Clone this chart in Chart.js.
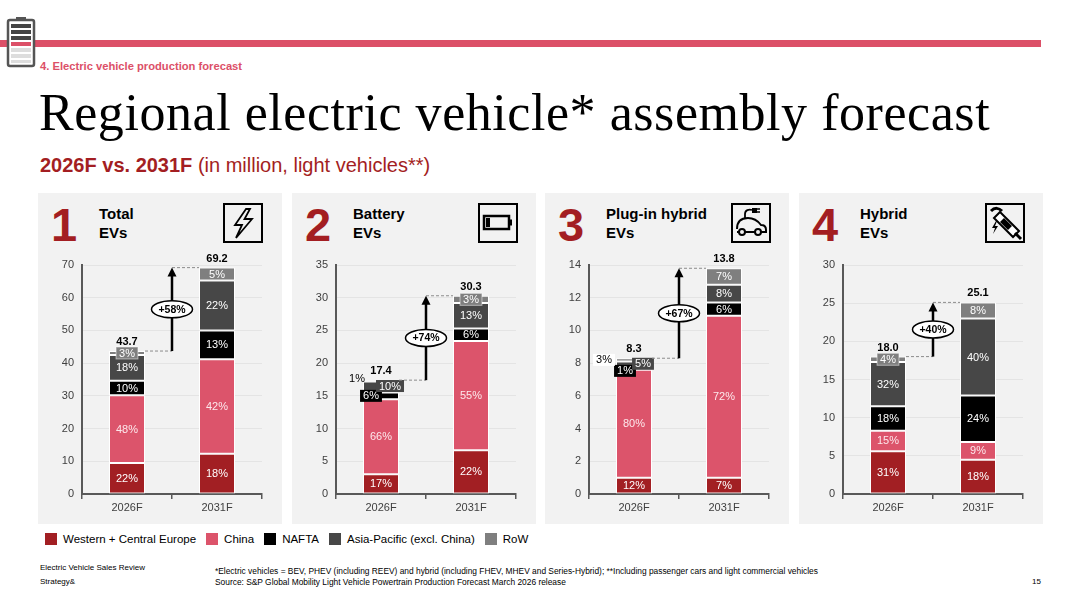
<!DOCTYPE html>
<html>
<head>
<meta charset="utf-8">
<script src="https://cdn.jsdelivr.net/npm/chart.js"></script>
<style>
  html, body { margin: 0; padding: 0; }
  body { width: 1080px; height: 607px; position: relative; background: #fff; overflow: hidden;
         font-family: "Liberation Sans", Arial, sans-serif; color: #000; }
  .abs { position: absolute; }
  .topbar { left: 0; top: 40px; width: 1041px; height: 7px; background: #dc5068; }
  .section { left: 40px; top: 60px; font-size: 11.2px; font-weight: bold; color: #dc5068; }
  .title { left: 39px; top: 83px; font-family: "Liberation Serif", "Times New Roman", serif; font-size: 52px; letter-spacing: 0.55px; white-space: nowrap; }
  .subtitle { left: 40px; top: 154px; font-size: 20px; color: #a31e22; white-space: nowrap; }
  .panel { top: 193px; width: 244px; height: 331px; background: #f2f2f2; }
  .ptitle { font-size: 15px; font-weight: bold; line-height: 19px; }
  .icon { width: 40px; height: 40px; }
  .legend { left: 45px; top: 533px; display: flex; font-size: 11.5px; color: #000; white-space: nowrap; }
  .legend span.sw { display: inline-block; width: 12px; height: 12px; margin-right: 6px; vertical-align: -2px; }
  .legend .item { margin-right: 10px; }
  .foot { font-size: 8px; color: #000; white-space: nowrap; }
  .note { font-size: 8.4px; }
  canvas { position: absolute; }
</style>
</head>
<body>
<script>
// categories and series (million light vehicles), stacked bottom to top
const regions = ['Western + Central Europe', 'China', 'NAFTA', 'Asia-Pacific (excl. China)', 'RoW'];
const regionColors = ['#a21f23', '#dc546b', '#000000', '#474747', '#7f7f7f'];
const years = ['2026F', '2031F'];

const totalEv2026 = [9.5, 20.7, 4.4, 7.9, 1.2];
const totalEv2031 = [12.3, 28.9, 8.8, 15.3, 3.9];
const bev2026 = [3.0, 11.5, 1.0, 1.7, 0.2];
const bev2031 = [6.7, 16.7, 1.9, 3.9, 1.1];
const phev2026 = [1.0, 6.6, 0.1, 0.4, 0.2];
const phev2031 = [1.0, 9.9, 0.8, 1.1, 1.0];
const hev2026 = [5.6, 2.7, 3.2, 5.8, 0.7];
const hev2031 = [4.5, 2.3, 6.1, 10.1, 2.1];

// share labels as printed
const totalEvShare2026 = ['22%', '48%', '10%', '18%', '3%'];
const totalEvShare2031 = ['18%', '42%', '13%', '22%', '5%'];
const bevShare2026 = ['17%', '66%', '6%', '10%', '1%'];
const bevShare2031 = ['22%', '55%', '6%', '13%', '3%'];
const phevShare2026 = ['12%', '80%', '1%', '5%', '3%'];
const phevShare2031 = ['7%', '72%', '6%', '8%', '7%'];
const hevShare2026 = ['31%', '15%', '18%', '32%', '4%'];
const hevShare2031 = ['18%', '9%', '24%', '40%', '8%'];

const panelTotals = [[43.7, 69.2], [17.4, 30.3], [8.3, 13.8], [18.0, 25.1]];
const totalLabels = [['43.7', '69.2'], ['17.4', '30.3'], ['8.3', '13.8'], ['18.0', '25.1']];
const growthLabels = ['+58%', '+74%', '+67%', '+40%'];
const panelTitles = [['Total', 'EVs'], ['Battery', 'EVs'], ['Plug-in hybrid', 'EVs'], ['Hybrid', 'EVs']];
const yMax = [70, 35, 14, 30];
const yStep = [10, 5, 2, 5];

const panelSeries = [
  [totalEv2026, totalEv2031], [bev2026, bev2031], [phev2026, phev2031], [hev2026, hev2031]
];
const panelShares = [
  [totalEvShare2026, totalEvShare2031], [bevShare2026, bevShare2031],
  [phevShare2026, phevShare2031], [hevShare2026, hevShare2031]
];

// label placement for the crowded small segments: panel-bar-region
const labelTweaks = {
  '1-0-4': { dx: -24, plain: true },
  '1-0-2': { dx: -10, box: true },
  '1-0-3': { dx: 9, dy: -1, box: true },
  '2-0-4': { dx: -30, box: true, bg: '#fff', fg: '#000' },
  '2-0-2': { dx: -9, dy: 2, box: true },
  '2-0-3': { dx: 9, dy: -1, box: true }
};
</script>

<div class="abs topbar"></div>
<svg class="abs" style="left:6px;top:16px" width="30" height="52" viewBox="0 0 30 52">
  <rect x="10" y="1" width="10" height="4" fill="#555"/>
  <rect x="2" y="4" width="26" height="46" rx="2" fill="#fff" stroke="#555" stroke-width="2.5"/>
  <rect x="5" y="8" width="20" height="4" fill="#444"/>
  <rect x="5" y="14" width="20" height="4" fill="#444"/>
  <rect x="5" y="20" width="20" height="4" fill="#444"/>
  <rect x="5" y="26" width="20" height="4" fill="#dc5068"/>
  <rect x="5" y="32" width="20" height="4" fill="#ddd"/>
  <rect x="5" y="38" width="20" height="4" fill="#ddd"/>
  <rect x="5" y="44" width="20" height="3" fill="#ddd"/>
</svg>
<div class="abs section">4. Electric vehicle production forecast</div>
<div class="abs title">Regional electric vehicle* assembly forecast</div>
<div class="abs subtitle"><b>2026F vs. 2031F</b> (in million, light vehicles**)</div>

<div id="panels"></div>

<div class="abs legend" id="legend"></div>

<div class="abs foot" style="left:40px;top:563px">Electric Vehicle Sales Review</div>
<div class="abs foot" style="left:40px;top:577px">Strategy&amp;</div>
<div class="abs foot note" style="left:215px;top:566px">*Electric vehicles = BEV, PHEV (including REEV) and hybrid (including FHEV, MHEV and Series-Hybrid); **Including passenger cars and light commercial vehicles</div>
<div class="abs foot note" style="left:215px;top:577px">Source: S&amp;P Global Mobility Light Vehicle Powertrain Production Forecast March 2026 release</div>
<div class="abs foot" style="left:1032px;top:577px">15</div>

<script>
const panelLefts = [38, 292, 545, 799];
const icons = [
  // lightning
  '<rect x="1" y="1" width="38" height="38" fill="none" stroke="#000" stroke-width="2"/>' +
  '<path d="M23 6 L12 22 L19 22 L13 35 L29 16 L21.5 16 L27 6 Z" fill="none" stroke="#000" stroke-width="1.8" stroke-linejoin="miter"/>',
  // battery
  '<rect x="1" y="1" width="38" height="38" fill="none" stroke="#000" stroke-width="2"/>' +
  '<rect x="6" y="13" width="25" height="13" fill="none" stroke="#000" stroke-width="2.5"/>' +
  '<rect x="31" y="16.5" width="3" height="6" fill="#000"/>' +
  '<rect x="8" y="15" width="4" height="9" fill="#000"/>',
  // plug-in car
  '<rect x="1" y="1" width="38" height="38" fill="none" stroke="#000" stroke-width="2"/>' +
  '<path d="M6 26 C6 19 10 15 17 15 C23 15 27 18 30 22 C33 22 35 24 35 27 L35 29 L30 29 M24 29 L14 29 M8 29 L6 29 Z" fill="none" stroke="#000" stroke-width="2"/>' +
  '<circle cx="11" cy="29" r="3" fill="none" stroke="#000" stroke-width="2"/>' +
  '<circle cx="27" cy="29" r="3" fill="none" stroke="#000" stroke-width="2"/>' +
  '<path d="M14 15 L14 11 C14 7 18 6 21 7" fill="none" stroke="#000" stroke-width="1.8"/>' +
  '<rect x="21" y="5" width="5" height="5" fill="#000"/>' +
  '<path d="M26 6 L29 6 M26 9 L29 9" stroke="#000" stroke-width="1.4"/>',
  // fuel nozzle with bolt
  '<rect x="1" y="1" width="38" height="38" fill="none" stroke="#000" stroke-width="2"/>' +
  '<path d="M6 8 C10 4 14 5 17 8" fill="none" stroke="#000" stroke-width="3"/>' +
  '<path d="M15 9 L34 28 L28 34 L9 15 Z" fill="#fff" stroke="#000" stroke-width="2"/>' +
  '<path d="M19 15 L27 23 L23 27 L15 19 Z" fill="#000"/>' +
  '<path d="M30 30 L36 36" stroke="#000" stroke-width="3"/>' +
  '<path d="M11 18 L7 25 L10 25 L8 31 L13 23 L10 23 L12 18 Z" fill="#000"/>'
];

const panelsEl = document.getElementById('panels');
panelLefts.forEach((left, p) => {
  const panel = document.createElement('div');
  panel.className = 'abs panel';
  panel.style.left = left + 'px';
  panel.innerHTML =
    '<div class="abs" style="left:13px;top:4px;font-size:47px;font-weight:bold;color:#a31e22;line-height:56px">' + (p + 1) + '</div>' +
    '<div class="abs ptitle" style="left:61px;top:11px">' + panelTitles[p][0] + '<br>' + panelTitles[p][1] + '</div>' +
    '<svg class="abs icon" style="left:' + (p === 0 ? 185 : 186) + 'px;top:10px" viewBox="0 0 40 40">' + icons[p] + '</svg>';
  panelsEl.appendChild(panel);

  const canvas = document.createElement('canvas');
  canvas.id = 'chart' + p;
  canvas.width = 244;
  canvas.height = 270;
  canvas.style.left = left + 'px';
  canvas.style.top = '250px';
  canvas.style.width = '244px';
  canvas.style.height = '270px';
  document.body.appendChild(canvas);
});

const legendEl = document.getElementById('legend');
regions.forEach((r, i) => {
  const item = document.createElement('div');
  item.className = 'item';
  item.innerHTML = '<span class="sw" style="background:' + regionColors[i] + '"></span>' + r;
  legendEl.appendChild(item);
});

function labelBox(ctx, cx, cy, w, h, fill) {
  ctx.fillStyle = fill;
  ctx.fillRect(cx - w / 2, cy - h / 2, w, h);
}

const labelPlugin = {
  id: 'segmentLabels',
  afterDatasetsDraw(chart) {
    const p = chart.options.panelIndex;
    const ctx = chart.ctx;
    const xs = chart.scales.x;
    const ys = chart.scales.y;
    ctx.save();
    ctx.font = '11px "Liberation Sans", Arial, sans-serif';
    ctx.textAlign = 'center';
    ctx.textBaseline = 'middle';

    let barW = 0;
    chart.data.datasets.forEach((ds, r) => {
      const meta = chart.getDatasetMeta(r);
      meta.data.forEach((el, b) => {
        barW = el.width;
        const h = el.base - el.y;
        const text = panelShares[p][b][r];
        const tw = ctx.measureText(text).width;
        const tweak = labelTweaks[p + '-' + b + '-' + r];
        let cx = el.x;
        let cy = (el.y + el.base) / 2;
        if (tweak) {
          cx += tweak.dx || 0;
          cy += tweak.dy || 0;
          if (tweak.plain) {
            ctx.fillStyle = '#000';
            ctx.fillText(text, cx, el.y - 1);
            return;
          }
          labelBox(ctx, cx, cy, tw + 6, 12, tweak.bg || regionColors[r]);
          ctx.fillStyle = tweak.fg || '#fff';
          ctx.fillText(text, cx, cy + 0.5);
          return;
        }
        if (h < 12) {
          const bw = Math.min(el.width - 12, tw + 6);
          labelBox(ctx, cx, cy, bw, 12, regionColors[r]);
          ctx.strokeStyle = 'rgba(255,255,255,0.5)';
          ctx.lineWidth = 1;
          ctx.strokeRect(cx - bw / 2, cy - 6, bw, 12);
        }
        ctx.fillStyle = r === 1 ? '#fde8ec' : '#fff';
        ctx.fillText(text, cx, cy + 0.5);
      });
    });

    // totals above bars
    ctx.font = 'bold 11px "Liberation Sans", Arial, sans-serif';
    ctx.fillStyle = '#000';
    ctx.textBaseline = 'alphabetic';
    years.forEach((y, b) => {
      const x = xs.getPixelForValue(b);
      const top = ys.getPixelForValue(panelTotals[p][b]);
      ctx.fillText(totalLabels[p][b], x, top - 6);
    });

    // growth arrow between bars
    const x0 = xs.getPixelForValue(0);
    const x1 = xs.getPixelForValue(1);
    const ax = (x0 + x1) / 2;
    const y0 = ys.getPixelForValue(panelTotals[p][0]);
    const y1 = ys.getPixelForValue(panelTotals[p][1]);
    ctx.strokeStyle = '#8c8c8c';
    ctx.lineWidth = 1;
    ctx.setLineDash([3, 2]);
    ctx.beginPath();
    ctx.moveTo(x0 + barW / 2, y0);
    ctx.lineTo(ax, y0);
    ctx.moveTo(ax, y1);
    ctx.lineTo(x1 - barW / 2, y1);
    ctx.stroke();
    ctx.setLineDash([]);

    ctx.strokeStyle = '#000';
    ctx.lineWidth = 2.5;
    ctx.beginPath();
    ctx.moveTo(ax, y0);
    ctx.lineTo(ax, y1 + 8);
    ctx.stroke();
    ctx.fillStyle = '#000';
    ctx.beginPath();
    ctx.moveTo(ax, y1);
    ctx.lineTo(ax - 4.5, y1 + 9);
    ctx.lineTo(ax + 4.5, y1 + 9);
    ctx.closePath();
    ctx.fill();

    const ey = (y0 + y1) / 2;
    ctx.beginPath();
    ctx.ellipse(ax, ey, 20.5, 8.5, 0, 0, Math.PI * 2);
    ctx.fillStyle = '#fff';
    ctx.fill();
    ctx.lineWidth = 1.5;
    ctx.strokeStyle = '#000';
    ctx.stroke();
    ctx.fillStyle = '#000';
    ctx.font = 'bold 10.5px "Liberation Sans", Arial, sans-serif';
    ctx.textBaseline = 'middle';
    ctx.fillText(growthLabels[p], ax, ey + 0.5);
    ctx.restore();
  }
};

const tickFont = { size: 11, family: '"Liberation Sans", Arial, sans-serif' };

panelSeries.forEach((series, p) => {
  const ctx = document.getElementById('chart' + p).getContext('2d');
  new Chart(ctx, {
    type: 'bar',
    data: {
      labels: years,
      datasets: regions.map((r, i) => ({
        label: r,
        data: [series[0][i], series[1][i]],
        backgroundColor: regionColors[i],
        borderColor: '#fff',
        borderWidth: 1,
        borderSkipped: false,
        barPercentage: 0.4,
        categoryPercentage: 1
      }))
    },
    options: {
      panelIndex: p,
      responsive: false,
      animation: false,
      layout: { padding: { top: 15, right: 20, left: 0, bottom: 0 } },
      plugins: { legend: { display: false }, tooltip: { enabled: false } },
      scales: {
        x: {
          stacked: true,
          grid: { display: true, drawOnChartArea: false, offset: true, tickLength: 5, color: '#595959', lineWidth: 1.5 },
          border: { color: '#595959', width: 2 },
          ticks: { color: '#404040', font: tickFont, padding: 2 },
          afterFit(scale) { scale.height = 26; }
        },
        y: {
          stacked: true,
          min: 0,
          max: yMax[p],
          ticks: { stepSize: yStep[p], color: '#404040', font: tickFont, padding: 8 },
          grid: { color: '#e4e4e4', drawTicks: false },
          border: { color: '#595959', width: 2 },
          afterFit(scale) { scale.width = 44; }
        }
      }
    },
    plugins: [labelPlugin]
  });
});
</script>
</body>
</html>
